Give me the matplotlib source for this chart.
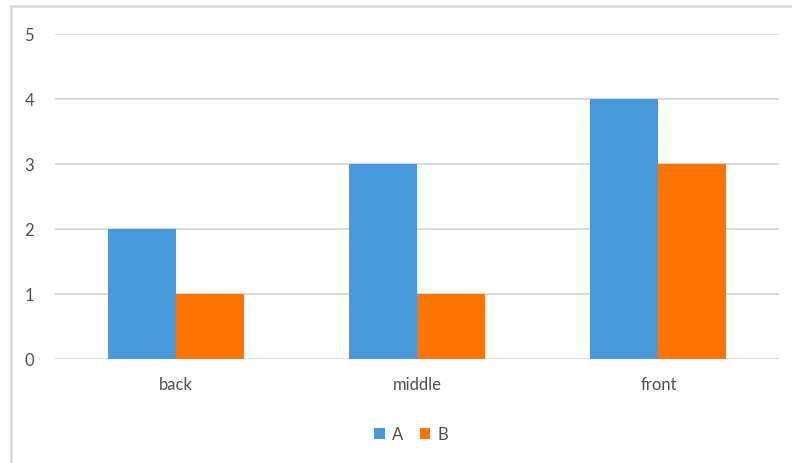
import matplotlib
matplotlib.use("Agg")
import matplotlib.pyplot as plt
import numpy as np
from matplotlib.patches import Patch
from matplotlib.lines import Line2D

categories = ["back", "middle", "front"]
series_a = [2, 3, 4]
series_b = [1, 1, 3]
series_names = ["A", "B"]
y_ticks = [0, 1, 2, 3, 4, 5]

color_a = "#4799DC"
color_b = "#FF7400"
text_color = "#505050"
grid_color = "#D9D9D9"

plt.rcParams["font.family"] = ["Lato", "DejaVu Sans"]

W, H = 792, 464
fig = plt.figure(figsize=(W / 100, H / 100), dpi=100)
ax = fig.add_axes([55 / W, 1 - 360 / H, (779 - 55) / W, (360 - 35) / H])

x = np.arange(len(categories))
bw = 0.282
ax.bar(x - bw / 2, series_a, width=bw, color=color_a, label=series_names[0], zorder=3)
ax.bar(x + bw / 2, series_b, width=bw, color=color_b, label=series_names[1], zorder=3)

ax.set_xlim(-0.5, len(categories) - 0.5)
ax.set_ylim(0, 5)
ax.set_yticks(y_ticks)
ax.set_yticklabels([str(t) for t in y_ticks])
ax.set_xticks(x)
ax.set_xticklabels(categories)
ax.tick_params(axis="both", length=0, labelsize=12, labelcolor=text_color)
ax.tick_params(axis="y", pad=15)
ax.tick_params(axis="x", pad=12)
for s in ax.spines.values():
    s.set_visible(False)
ax.grid(axis="y", color=grid_color, linewidth=1.4, zorder=0)
ax.set_axisbelow(True)

# chart frame (left and top edges)
fig.add_artist(Line2D([11 / W, 11 / W], [0, 1 - 7 / H], color=grid_color, linewidth=1.8,
                      transform=fig.transFigure))
fig.add_artist(Line2D([11 / W, 1], [1 - 7 / H, 1 - 7 / H], color=grid_color, linewidth=1.8,
                      transform=fig.transFigure))

handles = [Patch(facecolor=color_a, label=series_names[0]),
           Patch(facecolor=color_b, label=series_names[1])]
fig.legend(handles=handles, loc="center", bbox_to_anchor=(411 / W, 1 - 435 / H), ncol=2,
           frameon=False, handlelength=0.65, handleheight=0.65, handletextpad=0.4,
           columnspacing=1.0, fontsize=12, labelcolor=text_color)

fig.savefig("out.png", dpi=100, facecolor="white")
